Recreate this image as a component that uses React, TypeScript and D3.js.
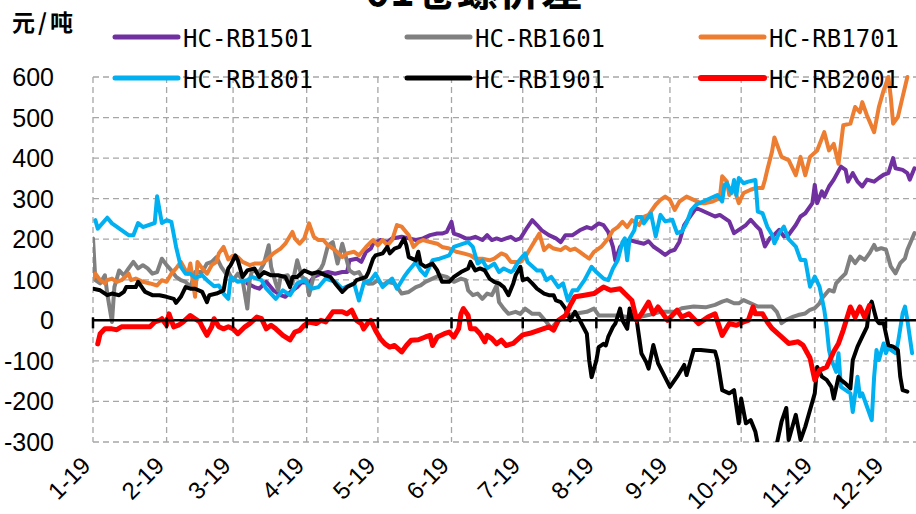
import React, { useRef, useEffect } from 'react';
import * as d3 from 'd3';

// month labels on the x axis and y ticks
const monthLabels = ['1-19', '2-19', '3-19', '4-19', '5-19', '6-19', '7-19', '8-19', '9-19', '10-19', '11-19', '12-19'];
const yTicks = [-300, -200, -100, 0, 100, 200, 300, 400, 500, 600];

const seriesNames = ['HC-RB1501', 'HC-RB1601', 'HC-RB1701', 'HC-RB1801', 'HC-RB1901', 'HC-RB2001'];
const seriesColors = ['#7030A0', '#808080', '#ED7D31', '#00B0F0', '#000000', '#FF0000'];

const hc1501: [string, number][] = [
  ['03-07', 91], ['03-10', 82], ['03-12', 78], ['03-15', 95], ['03-18', 74], ['03-21', 62], ['03-23', 58], ['03-26', 74],
  ['03-28', 82], ['03-30', 95], ['04-02', 91], ['04-04', 107], ['04-07', 115], ['04-10', 119], ['04-13', 115], ['04-16', 119],
  ['04-18', 119], ['04-19', 148], ['04-22', 152], ['04-24', 144], ['04-26', 169], ['04-28', 177], ['04-29', 189], ['05-02', 198],
  ['05-05', 193], ['05-07', 202], ['05-11', 206], ['05-14', 202], ['05-17', 198], ['05-20', 202], ['05-23', 210], ['05-26', 214],
  ['05-28', 214], ['05-30', 218], ['06-01', 243], ['06-02', 214], ['06-04', 210], ['06-07', 202], ['06-09', 202], ['06-11', 206],
  ['06-14', 198], ['06-16', 210], ['06-18', 198], ['06-20', 202], ['06-22', 198], ['06-24', 202], ['06-26', 206], ['06-28', 198],
  ['06-30', 202], ['07-03', 230], ['07-05', 247], ['07-07', 235], ['07-09', 222], ['07-12', 210], ['07-15', 202], ['07-17', 193],
  ['07-19', 210], ['07-22', 210], ['07-25', 222], ['07-28', 230], ['07-30', 226], ['08-02', 239], ['08-04', 235], ['08-06', 218],
  ['08-08', 181], ['08-09', 148], ['08-11', 181], ['08-13', 193], ['08-15', 198], ['08-18', 193], ['08-21', 189], ['08-23', 195],
  ['08-25', 182], ['08-28', 170], ['08-30', 161], ['09-01', 170], ['09-03', 174], ['09-05', 194], ['09-07', 235], ['09-09', 252],
  ['09-12', 277], ['09-14', 272], ['09-17', 264], ['09-20', 256], ['09-22', 260], ['09-24', 252], ['09-26', 244], ['09-28', 215],
  ['09-30', 223], ['10-03', 235], ['10-05', 248], ['10-07', 235], ['10-09', 223], ['10-11', 182], ['10-13', 202], ['10-15', 211],
  ['10-17', 223], ['10-19', 207], ['10-21', 211], ['10-24', 235], ['10-26', 256], ['10-28', 264], ['10-31', 289], ['11-01', 334],
  ['11-02', 289], ['11-04', 318], ['11-05', 305], ['11-07', 330], ['11-09', 347], ['11-12', 379], ['11-14', 371], ['11-15', 342],
  ['11-17', 363], ['11-19', 342], ['11-21', 330], ['11-23', 347], ['11-26', 342], ['11-28', 351], ['11-30', 359], ['12-02', 363],
  ['12-04', 400], ['12-05', 375], ['12-08', 371], ['12-10', 363], ['12-11', 347], ['12-13', 375],
];

const hc1601: [string, number][] = [
  ['01-01', 202], ['01-02', 99], ['01-04', 91], ['01-06', 111], ['01-07', 66], ['01-09', -4], ['01-10', 82], ['01-12', 123],
  ['01-14', 111], ['01-16', 128], ['01-18', 144], ['01-20', 128], ['01-22', 136], ['01-24', 128], ['01-26', 115], ['01-28', 119],
  ['01-30', 152], ['02-01', 136], ['02-03', 123], ['02-05', 107], ['02-07', 99], ['02-09', 95], ['02-11', 82], ['02-13', 119],
  ['02-16', 119], ['02-18', 140], ['02-20', 144], ['02-22', 156], ['02-24', 132], ['02-26', 115], ['02-27', 119], ['03-01', 99],
  ['03-03', 115], ['03-05', 99], ['03-07', 29], ['03-08', 99], ['03-09', 123], ['03-12', 119], ['03-14', 140], ['03-16', 185],
  ['03-17', 132], ['03-19', 91], ['03-20', 74], ['03-21', 107], ['03-24', 111], ['03-26', 91], ['03-28', 148], ['03-30', 107],
  ['04-01', 99], ['04-02', 62], ['04-04', 111], ['04-07', 128], ['04-08', 140], ['04-10', 185], ['04-12', 193], ['04-14', 140],
  ['04-16', 189], ['04-19', 123], ['04-21', 115], ['04-23', 119], ['04-25', 99], ['04-27', 90], ['04-29', 91], ['05-01', 99],
  ['05-03', 86], ['05-05', 95], ['05-08', 91], ['05-11', 66], ['05-14', 70], ['05-17', 82], ['05-19', 86], ['05-21', 95],
  ['05-24', 103], ['05-27', 111], ['05-30', 107], ['06-02', 95], ['06-05', 103], ['06-07', 99], ['06-08', 74], ['06-10', 62],
  ['06-12', 66], ['06-14', 53], ['06-16', 66], ['06-18', 62], ['06-20', 86], ['06-21', 45], ['06-23', 29], ['06-25', 16],
  ['06-28', 21], ['06-30', 16], ['07-02', 29], ['07-05', 16], ['07-08', 16], ['07-11', -4], ['07-13', -20], ['07-16', 0],
  ['07-19', 12], ['07-23', 16], ['07-28', 21], ['07-31', 29], ['08-02', 12], ['08-06', 12], ['08-10', 12], ['08-14', 8],
  ['08-19', 8], ['08-23', 13], ['08-28', 21], ['09-03', 21], ['09-06', 30], ['09-11', 34], ['09-16', 32], ['09-20', 38],
  ['09-23', 46], ['09-25', 50], ['09-28', 42], ['09-30', 42], ['10-02', 50], ['10-05', 42], ['10-08', 34], ['10-11', 34],
  ['10-14', 34], ['10-16', 21], ['10-18', -7], ['10-20', 1], ['10-23', 9], ['10-25', 13], ['10-28', 17], ['10-30', 26],
  ['11-01', 30], ['11-03', 42], ['11-04', 54], ['11-07', 75], ['11-09', 71], ['11-10', 91], ['11-12', 104], ['11-14', 116],
  ['11-16', 157], ['11-18', 141], ['11-20', 157], ['11-22', 149], ['11-24', 165], ['11-26', 186], ['11-27', 174], ['11-29', 178],
  ['12-01', 174], ['12-03', 133], ['12-05', 116], ['12-07', 141], ['12-09', 153], ['12-10', 174], ['12-13', 215],
];

const hc1701: [string, number][] = [
  ['01-01', 103], ['01-02', 115], ['01-04', 99], ['01-06', 91], ['01-07', 99], ['01-09', 103], ['01-11', 95], ['01-13', 99],
  ['01-16', 115], ['01-17', 99], ['01-19', 103], ['01-22', 95], ['01-25', 91], ['01-28', 86], ['01-30', 99], ['02-01', 95],
  ['02-03', 115], ['02-05', 128], ['02-07', 144], ['02-09', 123], ['02-10', 115], ['02-11', 140], ['02-13', 58], ['02-14', 144],
  ['02-16', 128], ['02-18', 115], ['02-20', 136], ['02-22', 144], ['02-23', 165], ['02-25', 181], ['02-27', 150], ['03-01', 160],
  ['03-03', 156], ['03-05', 144], ['03-08', 136], ['03-10', 140], ['03-13', 140], ['03-15', 148], ['03-18', 165], ['03-21', 177],
  ['03-23', 189], ['03-26', 218], ['03-27', 202], ['03-29', 189], ['03-31', 202], ['04-02', 239], ['04-04', 206], ['04-06', 198],
  ['04-08', 198], ['04-10', 185], ['04-13', 173], ['04-16', 156], ['04-18', 165], ['04-21', 169], ['04-23', 160], ['04-26', 181],
  ['04-28', 193], ['04-29', 198], ['05-01', 185], ['05-03', 198], ['05-05', 185], ['05-07', 198], ['05-09', 235], ['05-11', 231],
  ['05-14', 210], ['05-16', 181], ['05-18', 193], ['05-20', 198], ['05-23', 193], ['05-26', 189], ['05-28', 181], ['05-31', 177],
  ['06-03', 169], ['06-06', 165], ['06-09', 160], ['06-11', 152], ['06-14', 152], ['06-17', 148], ['06-19', 152], ['06-22', 165],
  ['06-24', 160], ['06-26', 144], ['06-30', 144], ['07-02', 156], ['07-05', 185], ['07-08', 214], ['07-10', 173], ['07-12', 185],
  ['07-14', 177], ['07-17', 173], ['07-19', 181], ['07-21', 173], ['07-23', 177], ['07-25', 169], ['07-27', 160], ['07-29', 152],
  ['07-31', 169], ['08-03', 181], ['08-06', 202], ['08-08', 222], ['08-10', 230], ['08-12', 243], ['08-14', 230], ['08-16', 247],
  ['08-19', 235], ['08-21', 255], ['08-23', 260], ['08-26', 285], ['08-28', 297], ['08-30', 305], ['09-01', 297], ['09-03', 272],
  ['09-05', 293], ['09-08', 305], ['09-11', 297], ['09-14', 289], ['09-16', 289], ['09-19', 293], ['09-22', 301], ['09-23', 355],
  ['09-25', 342], ['09-26', 309], ['09-28', 326], ['09-30', 289], ['10-02', 314], ['10-05', 322], ['10-07', 326], ['10-10', 326],
  ['10-11', 346], ['10-12', 371], ['10-14', 416], ['10-15', 451], ['10-18', 403], ['10-21', 395], ['10-24', 358], ['10-26', 403],
  ['10-28', 358], ['10-30', 403], ['11-02', 419], ['11-05', 464], ['11-07', 419], ['11-09', 435], ['11-11', 386], ['11-13', 481],
  ['11-16', 485], ['11-18', 526], ['11-20', 513], ['11-21', 538], ['11-23', 505], ['11-26', 464], ['11-28', 526], ['11-30', 567],
  ['12-02', 600], ['12-03', 551], ['12-04', 485], ['12-06', 501], ['12-08', 551], ['12-10', 600],
];

const hc1801: [string, number][] = [
  ['01-02', 247], ['01-03', 226], ['01-07', 253], ['01-09', 239], ['01-16', 210], ['01-18', 210], ['01-20', 240], ['01-22', 230],
  ['01-27', 240], ['01-28', 306], ['01-30', 240], ['02-01', 247], ['02-03', 243], ['02-05', 181], ['02-07', 132], ['02-09', 115],
  ['02-11', 115], ['02-13', 105], ['02-16', 111], ['02-18', 99], ['02-21', 84], ['02-23', 86], ['02-25', 66], ['02-27', 53],
  ['02-28', 107], ['03-03', 95], ['03-07', 99], ['03-09', 107], ['03-13', 99], ['03-15', 78], ['03-19', 53], ['03-22', 74],
  ['03-25', 62], ['03-28', 91], ['03-31', 99], ['04-03', 78], ['04-06', 82], ['04-09', 103], ['04-13', 95], ['04-16', 78],
  ['04-21', 91], ['04-23', 49], ['04-25', 91], ['04-28', 99], ['04-30', 115], ['05-03', 82], ['05-07', 103], ['05-09', 78],
  ['05-12', 107], ['05-14', 123], ['05-17', 144], ['05-19', 123], ['05-21', 111], ['05-24', 148], ['05-27', 152], ['05-31', 160],
  ['06-02', 181], ['06-06', 189], ['06-08', 193], ['06-10', 181], ['06-12', 140], ['06-14', 148], ['06-16', 128], ['06-19', 140],
  ['06-21', 119], ['06-23', 128], ['06-26', 119], ['06-27', 123], ['06-29', 144], ['07-02', 165], ['07-03', 144], ['07-07', 123],
  ['07-09', 123], ['07-11', 99], ['07-13', 107], ['07-16', 82], ['07-18', 91], ['07-20', 49], ['07-22', 74], ['07-24', 74],
  ['07-27', 99], ['07-30', 132], ['08-01', 119], ['08-04', 103], ['08-06', 99], ['08-08', 128], ['08-10', 148], ['08-12', 193],
  ['08-13', 202], ['08-14', 148], ['08-15', 202], ['08-17', 222], ['08-18', 255], ['08-20', 255], ['08-21', 239], ['08-24', 263],
  ['08-26', 207], ['08-28', 260], ['08-30', 244], ['09-02', 248], ['09-04', 215], ['09-06', 219], ['09-08', 240], ['09-10', 272],
  ['09-12', 285], ['09-15', 293], ['09-18', 301], ['09-21', 309], ['09-23', 293], ['09-24', 334], ['09-25', 338], ['09-27', 314],
  ['09-28', 346], ['09-29', 309], ['09-30', 351], ['10-02', 338], ['10-04', 342], ['10-07', 346], ['10-08', 268], ['10-10', 264],
  ['10-12', 231], ['10-14', 211], ['10-15', 190], ['10-17', 215], ['10-19', 231], ['10-21', 200], ['10-24', 182], ['10-26', 149],
  ['10-28', 149], ['10-30', 83], ['11-01', 108], ['11-03', 83], ['11-05', 26], ['11-06', -16], ['11-07', -73], ['11-08', -98],
  ['11-10', -127], ['11-11', -81], ['11-12', -164], ['11-14', -172], ['11-16', -180], ['11-17', -226], ['11-19', -139], ['11-20', -188],
  ['11-21', -180], ['11-23', -213], ['11-25', -246], ['11-26', -139], ['11-27', -73], ['11-28', -98], ['11-30', -57], ['12-01', -81],
  ['12-02', -65], ['12-03', -73], ['12-05', -81], ['12-06', -57], ['12-08', 17], ['12-09', 34], ['12-10', 1], ['12-12', -81],
];

const hc1901: [string, number][] = [
  ['01-01', 78], ['01-04', 74], ['01-07', 62], ['01-09', 66], ['01-12', 62], ['01-14', 70], ['01-15', 82], ['01-17', 82],
  ['01-19', 82], ['01-20', 95], ['01-22', 78], ['01-23', 70], ['01-26', 62], ['01-29', 62], ['02-01', 58], ['02-04', 53],
  ['02-05', 43], ['02-07', 58], ['02-09', 82], ['02-11', 78], ['02-13', 78], ['02-16', 70], ['02-18', 45], ['02-19', 62],
  ['02-22', 66], ['02-25', 74], ['02-26', 107], ['02-27', 128], ['02-28', 136], ['03-02', 160], ['03-03', 148], ['03-05', 107],
  ['03-07', 123], ['03-10', 128], ['03-12', 107], ['03-14', 119], ['03-17', 111], ['03-20', 111], ['03-23', 107], ['03-25', 82],
  ['03-26', 107], ['03-28', 107], ['03-31', 123], ['04-03', 115], ['04-06', 119], ['04-09', 111], ['04-11', 107], ['04-13', 91],
  ['04-16', 70], ['04-18', 82], ['04-21', 91], ['04-22', 99], ['04-24', 103], ['04-26', 107], ['04-27', 119], ['04-29', 152],
  ['04-30', 160], ['05-03', 165], ['05-05', 181], ['05-06', 165], ['05-08', 177], ['05-10', 181], ['05-12', 202], ['05-13', 185],
  ['05-14', 156], ['05-17', 148], ['05-18', 169], ['05-19', 140], ['05-21', 132], ['05-24', 140], ['05-26', 123], ['05-28', 95],
  ['05-31', 95], ['06-02', 107], ['06-05', 119], ['06-08', 128], ['06-09', 144], ['06-11', 123], ['06-13', 128], ['06-15', 123],
  ['06-17', 103], ['06-19', 95], ['06-21', 91], ['06-23', 82], ['06-25', 62], ['06-27', 91], ['06-28', 111], ['06-30', 132],
  ['07-01', 99], ['07-03', 103], ['07-05', 91], ['07-07', 78], ['07-10', 66], ['07-12', 62], ['07-14', 62], ['07-15', 49],
  ['07-17', 45], ['07-19', 29], ['07-21', 0], ['07-23', 21], ['07-25', 0], ['07-28', -33], ['07-29', -99], ['07-30', -140],
  ['08-01', -99], ['08-02', -66], ['08-04', -58], ['08-05', -62], ['08-06', -41], ['08-08', -16], ['08-09', -8], ['08-11', 29],
  ['08-12', 0], ['08-14', -21], ['08-15', 29], ['08-16', 8], ['08-18', 0], ['08-20', -82], ['08-22', -103], ['08-23', -119],
  ['08-25', -61], ['08-27', -106], ['09-01', -164], ['09-04', -139], ['09-07', -110], ['09-08', -135], ['09-11', -73], ['09-14', -73],
  ['09-20', -77], ['09-21', -98], ['09-23', -172], ['09-26', -180], ['09-28', -172], ['09-30', -254], ['10-01', -193], ['10-03', -254],
  ['10-05', -246], ['10-07', -275], ['10-08', -305], ['10-10', -340], ['10-14', -345], ['10-16', -305], ['10-18', -250], ['10-20', -216],
  ['10-21', -295], ['10-24', -233], ['10-26', -295], ['10-28', -262], ['10-30', -221], ['11-01', -180], ['11-02', -115], ['11-04', -139],
  ['11-06', -147], ['11-08', -164], ['11-09', -193], ['11-11', -139], ['11-12', -147], ['11-14', -156], ['11-16', -168], ['11-17', -98],
  ['11-19', -65], ['11-21', -40], ['11-23', -16], ['11-24', 34], ['11-25', 46], ['11-27', 1], ['11-28', -7], ['11-30', -7],
  ['12-02', -61], ['12-04', -65], ['12-06', -73], ['12-07', -139], ['12-08', -172], ['12-10', -176],
];

const hc2001: [string, number][] = [
  ['01-03', -58], ['01-04', -33], ['01-06', -21], ['01-09', -21], ['01-11', -23], ['01-13', -16], ['01-15', -16], ['01-19', -16],
  ['01-21', -16], ['01-25', -16], ['01-27', -4], ['01-29', 0], ['01-30', 4], ['02-01', -12], ['02-02', 16], ['02-04', -16],
  ['02-06', -12], ['02-08', -4], ['02-11', 12], ['02-13', 4], ['02-15', -4], ['02-16', -16], ['02-18', -37], ['02-20', -16],
  ['02-21', 4], ['02-23', -16], ['02-25', -21], ['02-27', -16], ['03-01', -21], ['03-03', -33], ['03-06', -16], ['03-08', -8],
  ['03-11', 8], ['03-13', 4], ['03-15', -21], ['03-17', -12], ['03-19', -21], ['03-22', -37], ['03-25', -48], ['03-27', -29],
  ['03-29', -25], ['03-31', -12], ['04-02', -4], ['04-05', -8], ['04-07', 0], ['04-09', -4], ['04-12', 21], ['04-16', 21],
  ['04-18', 16], ['04-20', 25], ['04-22', 0], ['04-24', -8], ['04-25', -21], ['04-27', -5], ['04-28', 0], ['04-30', -25],
  ['05-02', -45], ['05-04', -58], ['05-06', -66], ['05-08', -62], ['05-11', -78], ['05-13', -62], ['05-15', -49], ['05-18', -48],
  ['05-21', -41], ['05-23', -37], ['05-24', -62], ['05-26', -41], ['05-29', -33], ['05-31', -29], ['06-02', -41], ['06-04', -21],
  ['06-05', 16], ['06-06', 29], ['06-08', 12], ['06-09', -21], ['06-11', -21], ['06-13', -33], ['06-15', -53], ['06-16', -37],
  ['06-18', -45], ['06-20', -58], ['06-22', -49], ['06-24', -62], ['06-27', -57], ['07-01', -36], ['07-04', -32], ['07-08', -24],
  ['07-12', -16], ['07-14', -24], ['07-16', 0], ['07-19', 12], ['07-21', 37], ['07-23', 58], ['07-27', 62], ['07-31', 66],
  ['08-02', 74], ['08-04', 82], ['08-07', 74], ['08-11', 78], ['08-13', 66], ['08-16', 49], ['08-18', 0], ['08-20', 16],
  ['08-23', 45], ['08-25', 16], ['08-27', 33], ['08-31', 0], ['09-04', 25], ['09-06', 8], ['09-09', 16], ['09-13', -8],
  ['09-17', 8], ['09-20', 16], ['09-23', -37], ['09-26', -8], ['09-29', -12], ['10-02', -4], ['10-04', 0], ['10-06', 33],
  ['10-07', 16], ['10-10', 16], ['10-12', -4], ['10-14', -20], ['10-18', -41], ['10-21', -57], ['10-25', -53], ['10-27', -61],
  ['10-30', -93], ['11-01', -147], ['11-03', -123], ['11-06', -115], ['11-09', -77], ['11-11', -57], ['11-13', -24], ['11-16', 33],
  ['11-18', 8], ['11-20', 33], ['11-22', 8], ['11-24', 37],
];

const allSeries = [hc1501, hc1601, hc1701, hc1801, hc1901, hc2001];

function SpreadChart() {
  const svgRef = useRef(null);

  useEffect(() => {
    const svg = d3.select(svgRef.current);
    svg.selectAll('*').remove();

    const parse = d3.timeParse('%m-%d');
    const left = 93, right = 916, top = 77, bottom = 442;

    // time scale: Jan 1 -> Dec 1 spans the month gridlines
    const x = d3.scaleTime().domain([parse('01-01'), parse('12-01')]).range([93, 886]);
    const y = d3.scaleLinear().domain([-300, 600]).range([bottom, top]);
    const months = d3.timeMonth.range(parse('01-01'), parse('12-02'));

    svg.append('defs').append('clipPath').attr('id', 'plotClip')
      .append('rect').attr('x', left).attr('y', top - 4).attr('width', right - left).attr('height', bottom - top + 4);

    // dashed grid
    svg.append('g').selectAll('line')
      .data(yTicks.filter(t => t !== 0))
      .join('line')
      .attr('x1', left).attr('x2', right)
      .attr('y1', d => y(d)).attr('y2', d => y(d))
      .attr('stroke', '#A6A6A6').attr('stroke-width', 1.3).attr('stroke-dasharray', '6,4');

    svg.append('g').selectAll('line')
      .data(months)
      .join('line')
      .attr('x1', d => x(d)).attr('x2', d => x(d))
      .attr('y1', top).attr('y2', bottom)
      .attr('stroke', '#A6A6A6').attr('stroke-width', 1.3).attr('stroke-dasharray', '6,4');

    // y tick labels
    svg.append('g').selectAll('text')
      .data(yTicks)
      .join('text')
      .attr('x', 54).attr('y', d => y(d))
      .attr('dy', '0.36em')
      .attr('text-anchor', 'end')
      .attr('font-family', 'Liberation Sans, Arial, sans-serif')
      .attr('font-size', 25)
      .attr('fill', '#000')
      .text(d => d);

    // x tick labels, rotated
    svg.append('g').selectAll('text')
      .data(months)
      .join('text')
      .attr('transform', d => `translate(${x(d) - 1},467) rotate(-45)`)
      .attr('text-anchor', 'end')
      .attr('font-family', 'Liberation Sans, Arial, sans-serif')
      .attr('font-size', 24)
      .attr('fill', '#000')
      .text((d, i) => monthLabels[i]);

    // series lines
    const line = d3.line<[string, number]>()
      .x(d => x(parse(d[0])))
      .y(d => y(d[1]));

    const plot = svg.append('g').attr('clip-path', 'url(#plotClip)');
    allSeries.forEach((s, i) => {
      plot.append('path')
        .datum(s)
        .attr('d', line)
        .attr('fill', 'none')
        .attr('stroke', seriesColors[i])
        .attr('stroke-width', i === 5 ? 5 : 4)
        .attr('stroke-linejoin', 'round')
        .attr('stroke-linecap', 'round');
    });

    // zero axis with month ticks
    svg.append('line')
      .attr('x1', left).attr('x2', right)
      .attr('y1', y(0)).attr('y2', y(0))
      .attr('stroke', '#000').attr('stroke-width', 2.5);
    svg.append('g').selectAll('line')
      .data(months)
      .join('line')
      .attr('x1', d => x(d)).attr('x2', d => x(d))
      .attr('y1', y(0) - 3).attr('y2', y(0) + 8)
      .attr('stroke', '#000').attr('stroke-width', 2.5);

    // legend (2 rows x 3 columns)
    const legendX = [115, 407, 701];
    const legendY = [37, 78];
    const legend = svg.append('g');
    seriesNames.forEach((name, i) => {
      const lx = legendX[i % 3];
      const ly = legendY[Math.floor(i / 3)];
      legend.append('line')
        .attr('x1', lx).attr('x2', lx + 63)
        .attr('y1', ly).attr('y2', ly)
        .attr('stroke', seriesColors[i])
        .attr('stroke-width', i === 5 ? 6 : 5)
        .attr('stroke-linecap', 'round');
      legend.append('text')
        .attr('x', lx + 68).attr('y', ly + 10)
        .attr('font-family', 'DejaVu Sans Mono, monospace')
        .attr('font-size', 24)
        .attr('fill', '#000')
        .text(name);
    });

    // unit label and (cut off) title
    svg.append('text')
      .attr('x', 12).attr('y', 31)
      .attr('font-family', 'Noto Sans CJK SC, sans-serif')
      .attr('font-weight', 700)
      .attr('font-size', 23)
      .attr('letter-spacing', 3)
      .text('元/吨');

    svg.append('text')
      .attr('x', 474).attr('y', 6)
      .attr('text-anchor', 'middle')
      .attr('font-family', 'Noto Sans CJK SC, sans-serif')
      .attr('font-weight', 700)
      .attr('font-size', 42)
      .text('01卷螺价差');
  }, []);

  return (
    <svg ref={svgRef} width={916} height={514}
      style={{ position: 'absolute', left: 0, top: 0, background: '#fff' }} />
  );
}

export default function App() {
  return <SpreadChart />;
}
